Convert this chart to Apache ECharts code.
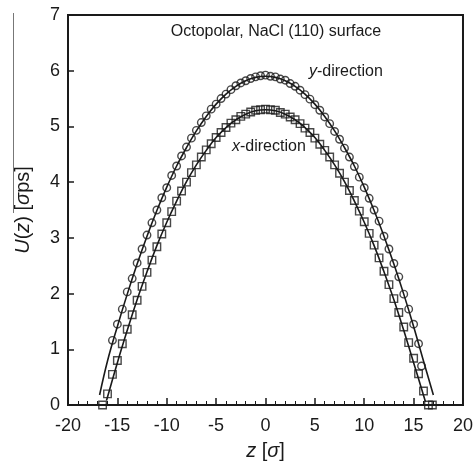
<!DOCTYPE html>
<html>
<head>
<meta charset="utf-8">
<script src="https://cdn.jsdelivr.net/npm/echarts@6/dist/echarts.min.js"></script>
<style>
  html, body { margin: 0; padding: 0; background: #fff; }
  #chart { width: 476px; height: 466px; }
</style>
</head>
<body>
<div id="chart"></div>
<script>
// y-direction: circles
const zY = [-15.5, -15.0, -14.5, -14.0, -13.5, -13.0, -12.5, -12.0, -11.5, -11.0, -10.5, -10.0,
  -9.5, -9.0, -8.5, -8.0, -7.5, -7.0, -6.5, -6.0, -5.5, -5.0, -4.5, -4.0, -3.5, -3.0, -2.5, -2.0,
  -1.5, -1.0, -0.5, 0.0, 0.5, 1.0, 1.5, 2.0, 2.5, 3.0, 3.5, 4.0, 4.5, 5.0, 5.5, 6.0, 6.5, 7.0,
  7.5, 8.0, 8.5, 9.0, 9.5, 10.0, 10.5, 11.0, 11.5, 12.0, 12.5, 13.0, 13.5, 14.0, 14.5, 15.0, 15.5, 15.8];
const uY = [1.16, 1.45, 1.72, 2.03, 2.27, 2.55, 2.80, 3.05, 3.27, 3.50, 3.72, 3.90,
  4.12, 4.29, 4.47, 4.63, 4.79, 4.93, 5.07, 5.19, 5.31, 5.40, 5.50, 5.58, 5.66, 5.73, 5.78, 5.82,
  5.86, 5.89, 5.91, 5.92, 5.90, 5.89, 5.85, 5.83, 5.77, 5.72, 5.65, 5.57, 5.49, 5.39, 5.29, 5.17, 5.05, 4.91,
  4.77, 4.61, 4.45, 4.28, 4.09, 3.90, 3.71, 3.50, 3.30, 3.03, 2.80, 2.54, 2.30, 1.99, 1.72, 1.45, 1.10, 0.70];

// x-direction: squares
const zX = [-16.5, -16.0, -15.5, -15.0, -14.5, -14.0, -13.5, -13.0, -12.5, -12.0, -11.5, -11.0, -10.5, -10.0,
  -9.5, -9.0, -8.5, -8.0, -7.5, -7.0, -6.5, -6.0, -5.5, -5.0, -4.5, -4.0, -3.5, -3.0, -2.5, -2.0,
  -1.5, -1.0, -0.5, 0.0, 0.5, 1.0, 1.5, 2.0, 2.5, 3.0, 3.5, 4.0, 4.5, 5.0, 5.5, 6.0, 6.5, 7.0,
  7.5, 8.0, 8.5, 9.0, 9.5, 10.0, 10.5, 11.0, 11.5, 12.0, 12.5, 13.0, 13.5, 14.0, 14.5, 15.0, 15.5, 16.0, 16.5, 16.9];
const uX = [0, 0.20, 0.55, 0.80, 1.10, 1.36, 1.62, 1.88, 2.13, 2.38, 2.60, 2.84, 3.07, 3.27,
  3.47, 3.66, 3.84, 4.00, 4.17, 4.31, 4.45, 4.58, 4.69, 4.80, 4.89, 4.98, 5.06, 5.12, 5.18, 5.22,
  5.26, 5.29, 5.30, 5.31, 5.30, 5.29, 5.25, 5.22, 5.17, 5.12, 5.05, 4.97, 4.89, 4.79, 4.68, 4.57, 4.45, 4.31,
  4.16, 4.00, 3.85, 3.67, 3.48, 3.29, 3.08, 2.87, 2.64, 2.40, 2.16, 1.91, 1.66, 1.40, 1.12, 0.84, 0.56, 0.25, 0, 0];

// fitted curves (solid lines)
const zFitY = [-16.8, -16, -15, -14, -13, -12, -11, -10, -9, -8, -7, -6, -5, -4, -3, -2, -1, 0,
  1, 2, 3, 4, 5, 6, 7, 8, 9, 10, 11, 12, 13, 14, 15, 16, 17];
const uFitY = [0.18, 0.79, 1.41, 1.99, 2.53, 3.03, 3.49, 3.91, 4.29, 4.62, 4.92, 5.18, 5.40, 5.58, 5.72, 5.82, 5.88, 5.90,
  5.88, 5.82, 5.72, 5.58, 5.40, 5.18, 4.92, 4.62, 4.29, 3.91, 3.49, 3.03, 2.53, 1.99, 1.41, 0.79, 0.18];
const zFitX = [-16.1, -15, -14, -13, -12, -11, -10, -9, -8, -7, -6, -5, -4, -3, -2, -1, 0,
  1, 2, 3, 4, 5, 6, 7, 8, 9, 10, 11, 12, 13, 14, 15, 16.2];
const uFitX = [0.08, 0.76, 1.34, 1.89, 2.39, 2.86, 3.28, 3.66, 4.01, 4.31, 4.57, 4.80, 4.98, 5.12, 5.22, 5.28, 5.30,
  5.28, 5.22, 5.12, 4.98, 4.80, 4.57, 4.31, 4.01, 3.66, 3.28, 2.86, 2.39, 1.89, 1.34, 0.76, 0.06];

const zip = (a, b) => a.map((v, i) => [v, b[i]]);

const FONT = '"Liberation Sans", Arial, sans-serif';
const INK = '#1a1a1a';

const chart = echarts.init(document.getElementById('chart'), null, { renderer: 'canvas' });

chart.setOption({
  animation: false,
  backgroundColor: '#fff',
  grid: {
    left: 68, right: 12, top: 15, bottom: 55,
    show: true, borderColor: INK, borderWidth: 2, backgroundColor: 'transparent'
  },
  xAxis: {
    type: 'value', min: -20, max: 20, interval: 5,
    name: '{i|z} [{i|σ}]', nameLocation: 'middle', nameGap: 36,
    nameTextStyle: {
      fontFamily: FONT, fontSize: 20, color: INK,
      rich: { i: { fontStyle: 'italic', fontFamily: FONT, fontSize: 20, color: INK } }
    },
    axisLine: { onZero: false, lineStyle: { color: INK, width: 2 } },
    axisTick: { inside: true, length: 7, lineStyle: { color: INK, width: 1.5 } },
    minorTick: { show: true, splitNumber: 5, length: 4, lineStyle: { color: INK, width: 1 } },
    axisLabel: { fontFamily: FONT, fontSize: 18, color: INK, margin: 12 },
    splitLine: { show: false }
  },
  yAxis: {
    type: 'value', min: 0, max: 7, interval: 1,
    name: '{i|U}({i|z}) [{i|σ}ps]', nameLocation: 'middle', nameGap: 35, nameRotate: 90,
    nameTextStyle: {
      fontFamily: FONT, fontSize: 20, color: INK,
      rich: { i: { fontStyle: 'italic', fontFamily: FONT, fontSize: 20, color: INK } }
    },
    axisLine: { onZero: false, lineStyle: { color: INK, width: 2 } },
    axisTick: { inside: true, length: 6, lineStyle: { color: INK, width: 1.5 } },
    axisLabel: { fontFamily: FONT, fontSize: 18, color: INK, margin: 8 },
    splitLine: { show: false }
  },
  series: [
    {
      name: 'y fit', type: 'line', data: zip(zFitY, uFitY), smooth: 0.4, showSymbol: false,
      lineStyle: { color: INK, width: 1.6 }, z: 2
    },
    {
      name: 'x fit', type: 'line', data: zip(zFitX, uFitX), smooth: 0.4, showSymbol: false,
      lineStyle: { color: INK, width: 1.6 }, z: 2
    },
    {
      name: 'y-direction', type: 'scatter', data: zip(zY, uY), symbol: 'circle', symbolSize: 7.5,
      itemStyle: { color: 'rgba(255,255,255,0)', borderColor: INK, borderWidth: 1.4 }, z: 3
    },
    {
      name: 'x-direction', type: 'scatter', data: zip(zX, uX), symbol: 'rect', symbolSize: 7.5,
      itemStyle: { color: 'rgba(255,255,255,0)', borderColor: INK, borderWidth: 1.4 }, z: 3
    }
  ],
  graphic: [
    {
      type: 'line', shape: { x1: 13.5, y1: 13, x2: 13.5, y2: 213 },
      style: { stroke: '#777', lineWidth: 1 }, silent: true
    },
    {
      type: 'text', x: 276, y: 32,
      style: { text: 'Octopolar, NaCl (110) surface', fontFamily: FONT, fontSize: 16, fill: INK,
        align: 'center', verticalAlign: 'middle' }
    },
    {
      type: 'text', x: 309, y: 72,
      style: {
        text: '{i|y}-direction', fontFamily: FONT, fontSize: 16, fill: INK, verticalAlign: 'middle',
        rich: { i: { fontStyle: 'italic', fontFamily: FONT, fontSize: 16, fill: INK } }
      }
    },
    {
      type: 'text', x: 232, y: 147,
      style: {
        text: '{i|x}-direction', fontFamily: FONT, fontSize: 16, fill: INK, verticalAlign: 'middle',
        rich: { i: { fontStyle: 'italic', fontFamily: FONT, fontSize: 16, fill: INK } }
      }
    }
  ]
});
</script>
</body>
</html>
